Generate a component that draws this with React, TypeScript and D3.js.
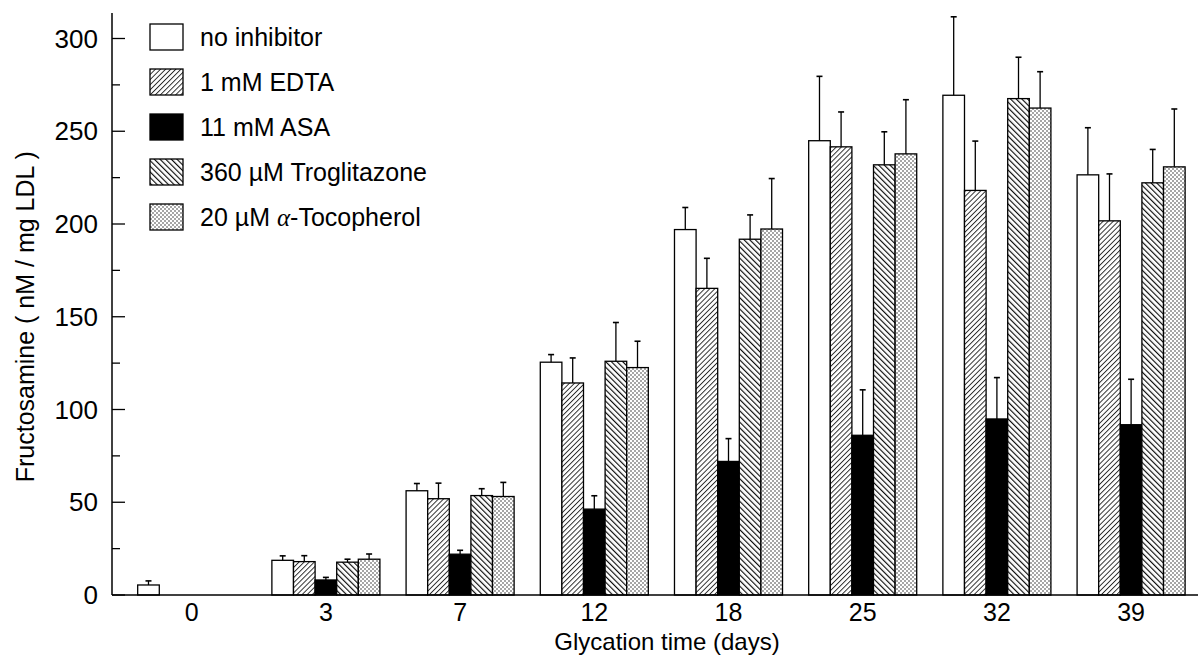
import { useEffect, useRef } from "react";
import { select, scaleLinear, scaleBand } from "d3";

const categories = ["0", "3", "7", "12", "18", "25", "32", "39"];
const seriesNames = ["no inhibitor", "1 mM EDTA", "11 mM ASA", "360 µM Troglitazone", "20 µM α-Tocopherol"];

const noInhibitor = [5.4, 18.7, 56.2, 125.5, 197.0, 244.9, 269.4, 226.5];
const noInhibitorErr = [2.2, 2.4, 3.9, 4.1, 11.9, 34.7, 42.3, 25.4];
const edta = [null, 18.0, 51.9, 114.3, 165.3, 241.6, 218.1, 201.7];
const edtaErr = [null, 3.2, 8.4, 13.5, 16.2, 18.8, 26.6, 25.3];
const asa = [null, 8.1, 22.0, 46.3, 72.0, 86.1, 94.9, 91.8];
const asaErr = [null, 1.4, 2.1, 7.2, 12.3, 24.5, 22.3, 24.5];
const trog = [null, 17.7, 53.6, 126.0, 191.8, 231.9, 267.6, 222.2];
const trogErr = [null, 1.6, 3.7, 20.9, 13.1, 17.8, 22.3, 18.0];
const toco = [null, 19.3, 53.1, 122.6, 197.3, 237.8, 262.5, 230.8];
const tocoErr = [null, 2.8, 7.6, 14.2, 27.2, 29.2, 19.6, 31.2];

const yTicks = [0, 50, 100, 150, 200, 250, 300];
const yMinorTicks = [25, 75, 125, 175, 225, 275];

const FONT = "'Liberation Sans', Arial, Helvetica, sans-serif";

const App = () => {
  const svgRef = useRef<SVGSVGElement>(null);

  useEffect(() => {
    document.body.style.margin = "0";
    const svg = select(svgRef.current);
    svg.selectAll("*").remove();

    const width = 1198;

    const values = [noInhibitor, edta, asa, trog, toco];
    const errors = [noInhibitorErr, edtaErr, asaErr, trogErr, tocoErr];
    const fills = ["#fff", "url(#hatchFwd)", "#000", "url(#hatchBack)", "url(#dots)"];

    // patterns
    const defs = svg.append("defs");
    const fwd = defs
      .append("pattern")
      .attr("id", "hatchFwd")
      .attr("patternUnits", "userSpaceOnUse")
      .attr("width", 3.6)
      .attr("height", 3.6)
      .attr("patternTransform", "rotate(45)");
    fwd.append("rect").attr("width", 3.6).attr("height", 3.6).attr("fill", "#fff");
    fwd.append("line").attr("x1", 0.5).attr("y1", 0).attr("x2", 0.5).attr("y2", 3.6)
      .attr("stroke", "#000").attr("stroke-width", 0.8);

    const back = defs
      .append("pattern")
      .attr("id", "hatchBack")
      .attr("patternUnits", "userSpaceOnUse")
      .attr("width", 4)
      .attr("height", 4)
      .attr("patternTransform", "rotate(-45)");
    back.append("rect").attr("width", 4).attr("height", 4).attr("fill", "#fff");
    back.append("line").attr("x1", 0.6).attr("y1", 0).attr("x2", 0.6).attr("y2", 4)
      .attr("stroke", "#000").attr("stroke-width", 1.1);

    const dots = defs
      .append("pattern")
      .attr("id", "dots")
      .attr("patternUnits", "userSpaceOnUse")
      .attr("width", 4)
      .attr("height", 4);
    dots.append("rect").attr("width", 4).attr("height", 4).attr("fill", "#fff");
    dots.append("circle").attr("cx", 1).attr("cy", 1).attr("r", 0.75).attr("fill", "#222");
    dots.append("circle").attr("cx", 3).attr("cy", 3).attr("r", 0.75).attr("fill", "#222");

    // scales
    const yScale = scaleLinear().domain([0, 300]).range([595, 38.5]);
    const xScale = scaleBand()
      .domain(categories)
      .range([124.6, 1198.2])
      .paddingInner(0.195)
      .paddingOuter(0.0975);
    const inner = scaleBand()
      .domain(seriesNames)
      .range([0, xScale.bandwidth()])
      .padding(0);

    const axisX = 112;

    // bars
    values.forEach((series, si) => {
      const g = svg.append("g");
      series.forEach((v, ci) => {
        if (v == null) return;
        const x0 = (xScale(categories[ci]) ?? 0) + (inner(seriesNames[si]) ?? 0);
        const bw = inner.bandwidth();
        g.append("rect")
          .attr("x", x0)
          .attr("y", yScale(v))
          .attr("width", bw)
          .attr("height", yScale(0) - yScale(v))
          .attr("fill", fills[si])
          .attr("stroke", "#000")
          .attr("stroke-width", 1.3);
        const e = errors[si][ci];
        if (e == null) return;
        const cx = x0 + bw / 2;
        g.append("line")
          .attr("x1", cx).attr("x2", cx)
          .attr("y1", yScale(v)).attr("y2", yScale(v + e))
          .attr("stroke", "#000").attr("stroke-width", 1.3);
        g.append("line")
          .attr("x1", cx - 3).attr("x2", cx + 3)
          .attr("y1", yScale(v + e)).attr("y2", yScale(v + e))
          .attr("stroke", "#000").attr("stroke-width", 1.6);
      });
    });

    // axes
    svg.append("line")
      .attr("x1", axisX).attr("x2", axisX)
      .attr("y1", yScale(0)).attr("y2", 13)
      .attr("stroke", "#000").attr("stroke-width", 1.5);
    svg.append("line")
      .attr("x1", axisX).attr("x2", width)
      .attr("y1", yScale(0)).attr("y2", yScale(0))
      .attr("stroke", "#000").attr("stroke-width", 1.5);

    svg.selectAll(".major")
      .data(yTicks)
      .enter()
      .append("line")
      .attr("x1", axisX).attr("x2", axisX + 13)
      .attr("y1", (d) => yScale(d)).attr("y2", (d) => yScale(d))
      .attr("stroke", "#000").attr("stroke-width", 1.3);
    svg.selectAll(".minor")
      .data(yMinorTicks)
      .enter()
      .append("line")
      .attr("x1", axisX).attr("x2", axisX + 8)
      .attr("y1", (d) => yScale(d)).attr("y2", (d) => yScale(d))
      .attr("stroke", "#000").attr("stroke-width", 1.3);

    svg.selectAll(".ylab")
      .data(yTicks)
      .enter()
      .append("text")
      .attr("x", 98)
      .attr("y", (d) => yScale(d) + 9)
      .attr("text-anchor", "end")
      .attr("font-family", FONT)
      .attr("font-size", 26)
      .text((d) => d);

    svg.selectAll(".xlab")
      .data(categories)
      .enter()
      .append("text")
      .attr("x", (d) => (xScale(d) ?? 0) + xScale.bandwidth() / 2)
      .attr("y", 621)
      .attr("text-anchor", "middle")
      .attr("font-family", FONT)
      .attr("font-size", 25)
      .text((d) => d);

    svg.append("text")
      .attr("x", 667)
      .attr("y", 650)
      .attr("text-anchor", "middle")
      .attr("font-family", FONT)
      .attr("font-size", 24)
      .text("Glycation time (days)");

    svg.append("text")
      .attr("transform", `translate(34,${(yScale(0) + yScale(300)) / 2}) rotate(-90)`)
      .attr("text-anchor", "middle")
      .attr("font-family", FONT)
      .attr("font-size", 25)
      .text("Fructosamine ( nM / mg LDL )");

    // legend
    const legend = svg.append("g");
    seriesNames.forEach((name, i) => {
      const cy = 37 + i * 45;
      legend.append("rect")
        .attr("x", 150).attr("y", cy - 13)
        .attr("width", 33).attr("height", 26)
        .attr("fill", fills[i])
        .attr("stroke", "#000").attr("stroke-width", 1.3);
      const t = legend.append("text")
        .attr("x", 200).attr("y", cy + 9)
        .attr("font-family", FONT)
        .attr("font-size", 25);
      if (name.includes("α")) {
        t.append("tspan").text("20 µM ");
        t.append("tspan").attr("font-family", "'Liberation Serif', 'Times New Roman', serif")
          .attr("font-style", "italic").text("α");
        t.append("tspan").text("-Tocopherol");
      } else {
        t.text(name);
      }
    });
  }, []);

  return (
    <div style={{ width: 1198, height: 668 }}>
      <svg ref={svgRef} width={1198} height={668} style={{ display: "block", background: "#fff" }}></svg>
    </div>
  );
};

export default App;
